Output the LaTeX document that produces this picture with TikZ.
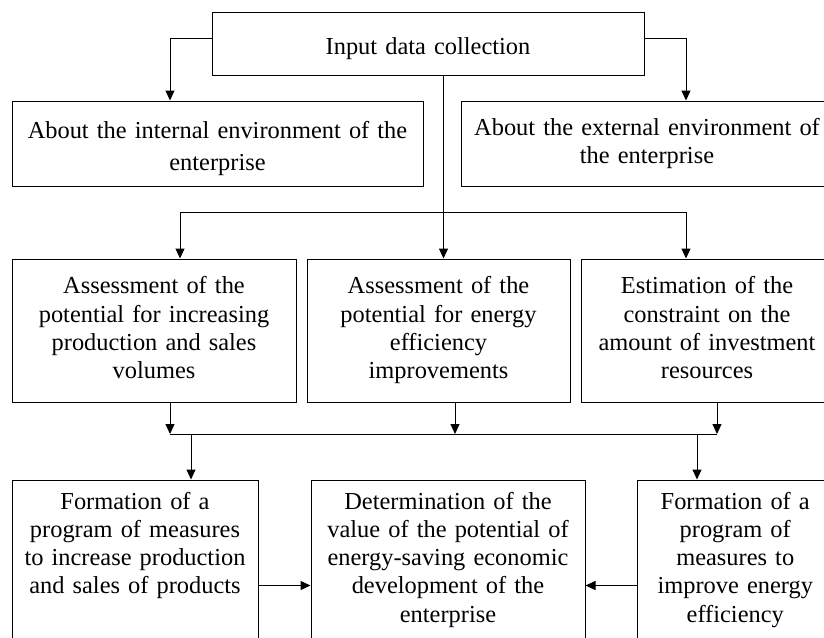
\documentclass[tikz,border=0pt]{standalone}
\usepackage{fontspec}
\setmainfont{Liberation Serif}
\usetikzlibrary{arrows.meta}
\tikzset{
  box/.style={draw, line width=1pt, inner sep=0pt, align=center,
    font=\fontsize{24.4pt}{28.3pt}\selectfont,
    execute at begin node=\strut, execute at end node=\strut},
  arr/.style={line width=1pt, -{Triangle[length=10pt,width=9pt]}},
  ln/.style={line width=1pt}
}
\begin{document}
\begin{tikzpicture}
\useasboundingbox (0,0) rectangle (824pt,-637pt);
\clip (0,0) rectangle (824pt,-637pt);
% row 0
\node[box, minimum width=432pt, minimum height=63pt, text width=420pt] (top) at (428pt,-43.5pt) {\rule{0pt}{29.5pt}Input data collection};
% row 1
\node[box, font=\fontsize{24.4pt}{32pt}\selectfont, minimum width=411pt, minimum height=85pt, text width=400pt] (int) at (217.5pt,-143.5pt) {\rule{0pt}{30.6pt}About the internal environment of the\\enterprise};
\node[box, minimum width=372pt, minimum height=85pt, text width=360pt] (ext) at (647pt,-143.5pt) {About the external environment of\\the enterprise};
% row 2
\node[box, minimum width=284pt, minimum height=143pt, text width=274pt] (b1) at (154pt,-330.5pt) {Assessment of the\\potential for increasing\\production and sales\\volumes};
\node[box, minimum width=263pt, minimum height=143pt, text width=253pt] (b2) at (438.5pt,-330.5pt) {Assessment of the\\potential for energy\\efficiency\\improvements};
\node[box, minimum width=252pt, minimum height=143pt, text width=242pt] (b3) at (707pt,-330.5pt) {Estimation of the\\constraint on the\\amount of investment\\resources};
% row 3
\node[box, minimum width=246pt, minimum height=160pt, text width=236pt] (bA) at (135pt,-560pt) {Formation of a\\program of measures\\to increase production\\and sales of products\\\mbox{}};
\node[box, minimum width=274pt, minimum height=160pt, text width=264pt] (bB) at (448pt,-560pt) {Determination of the\\value of the potential of\\energy-saving economic\\development of the\\enterprise};
\node[box, minimum width=195.5pt, minimum height=160pt, text width=185pt] (bC) at (735.25pt,-560pt) {Formation of a\\program of\\measures to\\improve energy\\efficiency};
% helper coordinates
\coordinate (e1) at (170pt,0);
\coordinate (e2) at (686pt,0);
\coordinate (cx) at (443.5pt,0);
\coordinate (j1) at (180pt,-212pt);
\coordinate (j3) at (686pt,-212pt);
\coordinate (k1) at (170pt,-434pt);
\coordinate (k2) at (455pt,-434pt);
\coordinate (k3) at (717pt,-434pt);
\coordinate (kA) at (191pt,-434pt);
\coordinate (kC) at (697pt,-434pt);
\coordinate (ay) at (0,-585.5pt);
% connectors
\draw[arr] ([yshift=5pt]top.west) -| (int.north -| e1);
\draw[arr] ([yshift=5pt]top.east) -| (ext.north -| e2);
\draw[arr] (top.south -| cx) -- (b2.north -| cx);
\draw[ln] (j1) -- (j3);
\draw[arr] (j1) -- (j1 |- b1.north);
\draw[arr] (j3) -- (j3 |- b3.north);
\draw[arr] (b1.south -| k1) -- (k1);
\draw[arr] (b2.south -| k2) -- (k2);
\draw[arr] (b3.south -| k3) -- (k3);
\draw[ln] (k1) -- (k3);
\draw[arr] (kA) -- (kA |- bA.north);
\draw[arr] (kC) -- (kC |- bC.north);
\draw[arr] (bA.east |- ay) -- (bB.west |- ay);
\draw[arr] (bC.west |- ay) -- (bB.east |- ay);
\end{tikzpicture}
\end{document}
